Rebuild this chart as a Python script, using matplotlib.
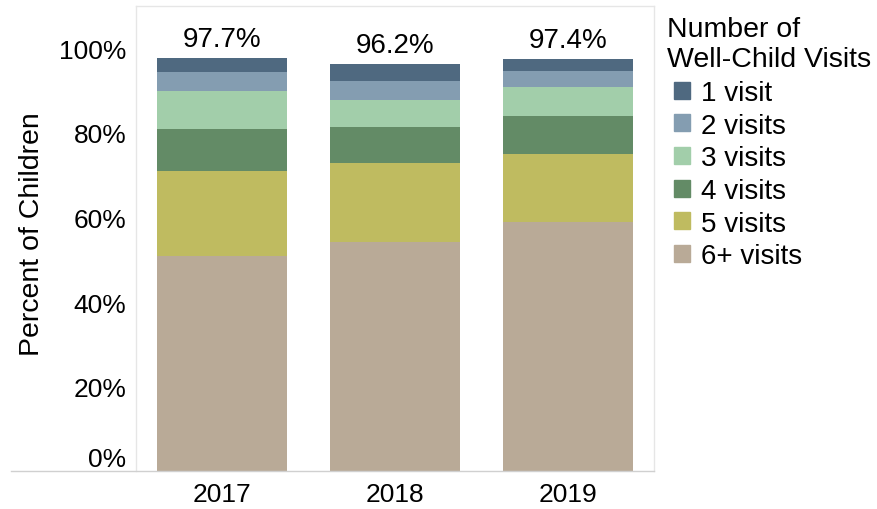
import matplotlib

matplotlib.use("Agg")
import matplotlib.pyplot as plt
from matplotlib.lines import Line2D
from matplotlib.patches import Patch

years = ["2017", "2018", "2019"]
visit_labels = ["6+ visits", "5 visits", "4 visits", "3 visits", "2 visits", "1 visit"]
visits_6plus = [50.8, 54.3, 58.9]
visits_5 = [20.2, 18.6, 16.1]
visits_4 = [9.9, 8.5, 9.0]
visits_3 = [9.0, 6.4, 6.8]
visits_2 = [4.5, 4.5, 3.8]
visits_1 = [3.3, 3.9, 2.8]
totals = [97.7, 96.2, 97.4]

colors = ["#b9aa97", "#bfbb60", "#638b66", "#a2ceaa", "#849db1", "#4f6980"]

plt.rcParams["font.family"] = ["Liberation Sans", "DejaVu Sans"]

fig = plt.figure(figsize=(8.77, 5.10), dpi=100)
ax = fig.add_axes([0.1551, 0.0739, 0.5906, 0.9124])

series = [visits_6plus, visits_5, visits_4, visits_3, visits_2, visits_1]
x = list(range(len(years)))
bottom = [0.0] * len(years)
for vals, col, lab in zip(series, colors, visit_labels):
    ax.bar(x, vals, width=0.754, bottom=bottom, color=col, label=lab, linewidth=0)
    bottom = [b + v for b, v in zip(bottom, vals)]

for xi, t in zip(x, totals):
    ax.text(xi, t + 1.5, f"{t:.1f}%", ha="center", va="bottom", fontsize=20)

ax.set_xlim(-0.5, 2.5)
ax.set_ylim(0, 110)
ax.set_xticks(x)
ax.set_xticklabels(years, fontsize=19)
ax.set_yticks([0, 20, 40, 60, 80, 100])
ax.set_yticklabels([f"{v}%" for v in [0, 20, 40, 60, 80, 100]], fontsize=19)
ax.yaxis.get_ticklabels()[0].set_verticalalignment("bottom")
ax.tick_params(axis="y", length=0, pad=7)
ax.tick_params(axis="x", length=0, pad=8)
ax.set_ylabel("Percent of Children", fontsize=20.5)
ax.yaxis.set_label_coords(-0.176, 0.512)

for side in ["top", "left", "right"]:
    ax.spines[side].set_color("#e6e6e6")
    ax.spines[side].set_linewidth(1)
ax.spines["bottom"].set_visible(False)
fig.add_artist(Line2D([11 / 877, 654 / 877], [0.0739, 0.0739], color="#d0d0d0", lw=1))

fig.text(667 / 877, 1 - 17 / 510, "Number of\nWell-Child Visits", fontsize=20.5,
         ha="left", va="top", linespacing=1.2)
handles = [Patch(color=c, label=l) for c, l in zip(colors, visit_labels)][::-1]
fig.legend(handles=handles, loc="upper left", bbox_to_anchor=(674 / 877, 1 - 81 / 510),
           fontsize=20, frameon=False, handlelength=0.57, handleheight=0.57,
           handletextpad=0.4, labelspacing=0.24, borderaxespad=0, borderpad=0)

fig.savefig("out.png", dpi=100)
